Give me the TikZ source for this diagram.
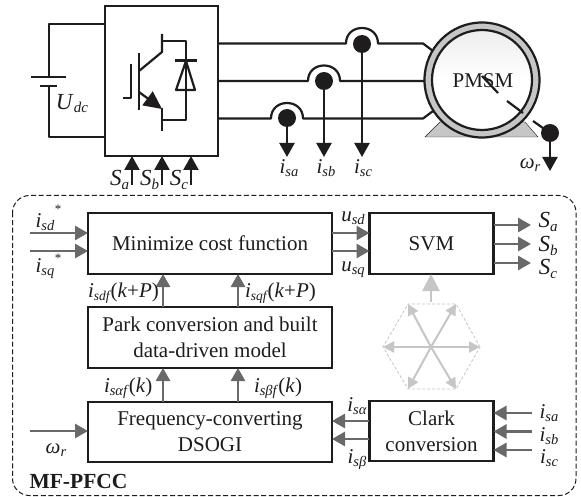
\documentclass[tikz,border=0pt]{standalone}
\usepackage{fontspec}
\setmainfont{Liberation Serif}
\usetikzlibrary{arrows.meta,calc}
\newcommand{\ssub}[2]{\textit{#1}\raisebox{-0.32ex}{\fontsize{14.5}{15}\selectfont\textit{#2}}}
\newcommand{\tsub}[2]{\textit{#1}\raisebox{-0.32ex}{\fontsize{13.5}{15}\selectfont\textit{#2}}\hspace{-0.6pt}}
\newcommand{\bsub}[2]{{\fontsize{23}{24}\selectfont\textit{#1}}\raisebox{-0.32ex}{\fontsize{15}{16}\selectfont\textit{#2}}}
\definecolor{arrgray}{RGB}{105,105,105}
\definecolor{liteg}{RGB}{198,198,198}
\definecolor{ink}{RGB}{30,28,28}
\tikzset{
  x=1pt,y=-1pt,
  every node/.style={font=\fontsize{21}{26}\selectfont,text=ink,inner sep=0pt,outer sep=0pt},
  box/.style={draw=ink,line width=2.3pt,fill=white,minimum width=#1,align=center},
  wire/.style={draw=ink,line width=2.2pt,line join=round},
  blk/.style={draw=ink,line width=2.2pt,-{Triangle[length=14pt,width=15pt]},shorten >=0pt},
  garr/.style={draw=arrgray,line width=2.8pt,-{Triangle[length=13pt,width=14pt]}},
  larr/.style={draw=liteg,line width=2pt,-{Triangle[length=11pt,width=11pt]}},
  dotc/.style={circle,fill=ink,minimum size=18pt},
  lab/.style={font=\fontsize{21}{23}\selectfont},
}
\begin{document}
\begin{tikzpicture}
\useasboundingbox (0,0) rectangle (581,497);
\fill[white] (0,0) rectangle (581,497);
% dashed frame
\draw[ink,line width=1pt,dash pattern=on 5pt off 2.6pt,rounded corners=17pt] (12.5,195.5) rectangle (576,495.5);
% inverter
\node[box=113pt,minimum height=150pt] (inv) at (161.5,81) {};
% battery
\coordinate (batT) at (49,77);
\coordinate (batB) at (49,86);
\draw[wire] (inv.west |- 0,24) -| (batT);
\draw[wire] (inv.west |- 0,137) -| (batB);
\draw[wire] (31,77) -- (66,77);
\draw[wire] (40,86) -- (57,86);
\node[lab] (udc) at (72,104) {\bsub{U}{dc}};
% IGBT
\draw[wire] (123,98) -- (131,98) -- (131,64);
\draw[wire] (139,53) -- (139,110);
\draw[wire] (139,71) -- (162,52) -- (162,34);
\draw[wire] (162,41) -- (186,41) -- (186,120) -- (162,120);
\draw[wire] (162,108) -- (162,131);
\draw[ink,line width=2.2pt,-{Triangle[length=18pt,width=17pt]}] (139,92) -- (162,109);
% diode
\draw[wire] (176,90) -- (195,90) -- (186,61) -- cycle;
\draw[wire] (175,60.5) -- (197,60.5);
% motor
\fill[liteg,draw=ink,line width=.4pt] (425,137) -- (440,122) -- (525,122) -- (538,137) -- cycle;
\node[circle,draw=ink,line width=2.2pt,fill=liteg,minimum size=115pt] (mot) at (482,80) {};
\node[circle,draw=ink,line width=2.2pt,top color=gray!14,bottom color=white,middle color=white,minimum size=100pt] (rot) at (482,80) {};
\node (pmsm) at (483,81) {PMSM};
\draw[wire] (482,76) -- (498,93);
\draw[wire] (507,101) -- (523,113);
\node[dotc] (wd) at (550,133) {};
\draw[wire] (533,121) -- (wd.center);
% phase dots
\node[dotc] (da) at (287,118) {};
\node[dotc] (db) at (324,81) {};
\node[dotc] (dc) at (362,44) {};
% phase wires
\draw[wire] (inv.east |- 0,43.5) -- (346,43.5) .. controls (346,34) and (353,28) .. (362,28) .. controls (371,28) and (378,34) .. (378,43.5) -- (423,43.5) -- (433,51);
\draw[wire] (inv.east |- 0,81) -- (308,81) .. controls (308,71.5) and (315,65.5) .. (324,65.5) .. controls (333,65.5) and (340,71.5) .. (340,81) -- (mot.west |- 0,81);
\draw[wire] (inv.east |- 0,118.5) -- (271,118.5) .. controls (271,109) and (278,103) .. (287,103) .. controls (296,103) and (303,109) .. (303,118.5) -- (423,118.5) -- (433,111);
% current arrows
\coordinate (ea) at (287,157);
\coordinate (eb) at (324,157);
\coordinate (ec) at (362,157);
\coordinate (ew) at (550,171);
\draw[blk] (da.center) -- (ea);
\draw[blk] (db.center) -- (eb);
\draw[blk] (dc.center) -- (ec);
\draw[blk] (wd.center) -- (ew);
\node[lab] (lisa) at (289,168) {\ssub{i}{sa}};
\node[lab] (lisb) at (326,168) {\ssub{i}{sb}};
\node[lab] (lisc) at (363,168) {\ssub{i}{sc}};
\node[lab] (lwr) at (530,165) {\ssub{ω}{r}};
% switching arrows
\coordinate (sa) at (132,185);
\coordinate (sb) at (162,185);
\coordinate (sc) at (191,185);
\draw[blk] (sa) -- (sa |- inv.south);
\draw[blk] (sb) -- (sb |- inv.south);
\draw[blk] (sc) -- (sc |- inv.south);
\node[lab] (tsa) at (119.5,180) {\bsub{S}{a}};
\node[lab] (tsb) at (149.5,180) {\bsub{S}{b}};
\node[lab] (tsc) at (179,180) {\bsub{S}{c}};
% control blocks
\node[box=244pt,minimum height=61pt] (cost) at (210,243.5) {Minimize cost function};
\node[box=124pt,minimum height=61pt] (svm) at (431.5,243.5) {SVM};
\node[box=244pt,minimum height=61pt] (park) at (210,337.5) {Park conversion and built\\data-driven model};
\node[box=244pt,minimum height=60pt] (freq) at (210,432) {Frequency-converting\\DSOGI};
\node[box=124pt,minimum height=60pt] (clark) at (431.5,431) {Clark\\conversion};
% inputs to cost
\coordinate (in1) at (30,233);
\coordinate (in2) at (30,251);
\draw[garr] (in1) -- (cost.west |- in1);
\draw[garr] (in2) -- (cost.west |- in2);
\node[lab] (isd) at (45,222) {\ssub{i}{sd}};
\node[lab] (isds) at (58,209) {\fontsize{13}{14}\selectfont *};
\node[lab] (isq) at (45,269) {\ssub{i}{sq}};
\node[lab] (isqs) at (58,258) {\fontsize{13}{14}\selectfont *};
% cost to svm
\coordinate (u1) at (332,233);
\coordinate (u2) at (332,251);
\draw[garr] (u1) -- (svm.west |- u1);
\draw[garr] (u2) -- (svm.west |- u2);
\node[lab] (usd) at (353,218) {\ssub{u}{sd}};
\node[lab] (usq) at (353,270) {\ssub{u}{sq}};
% svm outputs
\coordinate (o1) at (531,225);
\coordinate (o2) at (531,244);
\coordinate (o3) at (531,263);
\draw[garr] (svm.east |- o1) -- (o1);
\draw[garr] (svm.east |- o2) -- (o2);
\draw[garr] (svm.east |- o3) -- (o3);
\node[lab] (osa) at (548,222) {\bsub{S}{a}};
\node[lab] (osb) at (548,246) {\bsub{S}{b}};
\node[lab] (osc) at (548,269) {\bsub{S}{c}};
% vertical arrows
\coordinate (v1) at (163,0);
\coordinate (v2) at (238,0);
\draw[garr] (v1 |- park.north) -- (v1 |- cost.south);
\draw[garr] (v2 |- park.north) -- (v2 |- cost.south);
\draw[garr] (v1 |- freq.north) -- (v1 |- park.south);
\draw[garr] (v2 |- freq.north) -- (v2 |- park.south);
\node[lab,anchor=west] (l1) at (88,293) {\tsub{i}{sdf}(\textit{k}+\textit{P})};
\node[lab,anchor=west] (l2) at (245,293) {\tsub{i}{sqf}(\textit{k}+\textit{P})};
\node[lab,anchor=west] (l3) at (104,388) {\ssub{i}{sαf}(\textit{k})};
\node[lab,anchor=west] (l4) at (254,388) {\ssub{i}{sβf}(\textit{k})};
% clark to freq
\coordinate (c1) at (369,421);
\coordinate (c2) at (369,439);
\draw[garr] (c1) -- (freq.east |- c1);
\draw[garr] (c2) -- (freq.east |- c2);
\node[lab] (ial) at (357,406) {\ssub{i}{sα}};
\node[lab] (ibe) at (357,460) {\ssub{i}{sβ}};
% clark inputs
\coordinate (r1) at (532,413);
\coordinate (r2) at (532,431.5);
\coordinate (r3) at (532,450);
\draw[garr] (r1) -- (clark.east |- r1);
\draw[garr] (r2) -- (clark.east |- r2);
\draw[garr] (r3) -- (clark.east |- r3);
\node[lab] (risa) at (549,413) {\ssub{i}{sa}};
\node[lab] (risb) at (549,436) {\ssub{i}{sb}};
\node[lab] (risc) at (549,458) {\ssub{i}{sc}};
% omega input
\coordinate (wi) at (30,431);
\draw[garr] (wi) -- (freq.west |- wi);
\node[lab] (wl) at (56,450) {\ssub{ω}{r}};
\node[font=\fontsize{21.5}{23}\selectfont\bfseries] (mf) at (78.5,481) {MF-PFCC};
% hexagon
\coordinate (hc) at (431,347);
\coordinate (h1) at (480,347);
\coordinate (h2) at (456,304);
\coordinate (h3) at (408,304);
\coordinate (h4) at (383,347);
\coordinate (h5) at (408,389);
\coordinate (h6) at (456,389);
\draw[liteg,line width=.8pt,densely dashed] (h1) -- (h2) -- (h3) -- (h4) -- (h5) -- (h6) -- cycle;
\foreach \h in {h1,h2,h3,h4,h5,h6} \draw[larr] (hc) -- (\h);
\coordinate (hup) at (431,302);
\draw[draw=liteg,line width=2.6pt,-{Triangle[length=17pt,width=17pt]}] (hup) -- (hup |- svm.south);
\end{tikzpicture}
\end{document}
